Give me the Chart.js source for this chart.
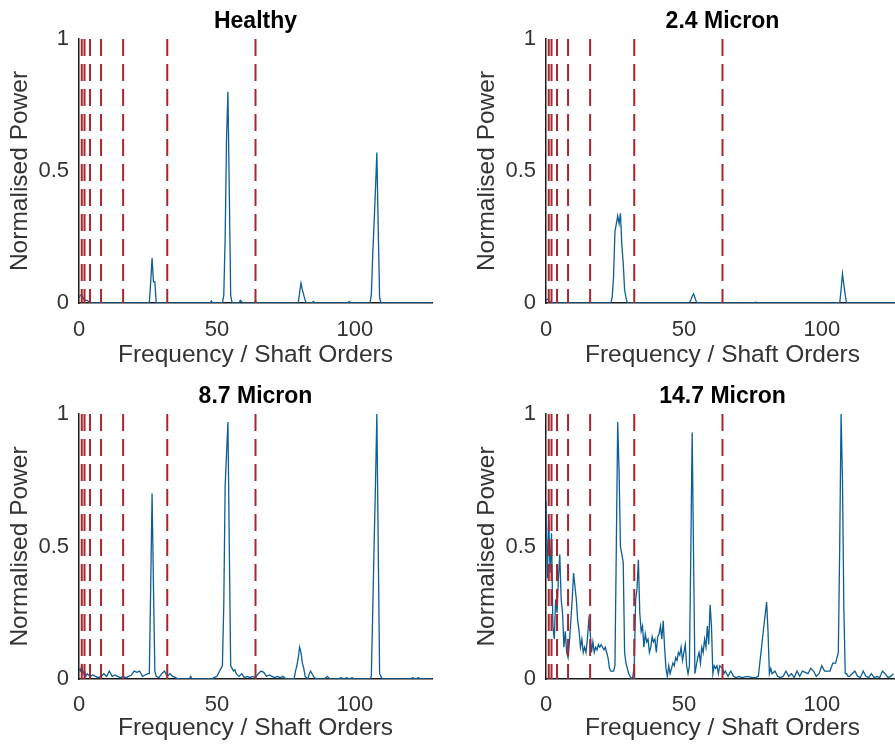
<!DOCTYPE html>
<html lang="en">
<head>
<meta charset="UTF-8" />
<script src="https://cdn.jsdelivr.net/npm/chart.js@4.4.1/dist/chart.umd.min.js"></script>
<title>Normalised power spectra</title>
<style>
  html, body { margin: 0; padding: 0; background: #fff; overflow: hidden; width: 895px; height: 755px; }
  .panel { position: absolute; }
</style>
</head>
<body>
<div class="panel" style="left:0;top:0"><canvas id="c0" width="450" height="375"></canvas></div>
<div class="panel" style="left:450px;top:0"><canvas id="c1" width="460" height="375"></canvas></div>
<div class="panel" style="left:0;top:375px"><canvas id="c2" width="450" height="380"></canvas></div>
<div class="panel" style="left:450px;top:375px"><canvas id="c3" width="460" height="380"></canvas></div>
<script>
// tick labels and marker lines (shaft orders)
const shaftOrderTicks = [0, 50, 100];
const powerTicks = [0, 0.5, 1];
const markerOrders = [1, 2, 4, 8, 16, 32, 64];
const panelTitles = ["Healthy", "2.4 Micron", "8.7 Micron", "14.7 Micron"];

// Healthy
const healthyFreq = [0,0.5,1,1.5,2,3,4, 25.5,26,26.5,27,27.5,28, 47.5,48,48.5,
  52,52.5,53,53.5,54,54.5,55,55.5, 58,58.5,59.5, 63.5,64,64.5,
  79.5,80,80.5,81,81.5,82,82.5, 84.5,85,85.5, 97.5,98,98.5,
  105.5,106,106.5,107,107.5,108,108.5,109,109.5, 128];
const healthyPower = [0.02,0.03,0.03,0.02,0.01,0.01,0, 0,0.08,0.17,0.08,0.08,0, 0,0.008,0,
  0,0.03,0.25,0.62,0.8,0.42,0.03,0, 0,0.01,0, 0,0.008,0,
  0,0.04,0.075,0.05,0.03,0.01,0, 0,0.006,0, 0,0.006,0,
  0,0.03,0.18,0.3,0.43,0.57,0.28,0.02,0, 0];

// 2.4 Micron
const micron24Freq = [0,0.5,1,1.5,2, 23.5,24,24.5,25,25.5,26,26.5,27,27.5,28,28.5,29,29.5,
  52,52.5,53,53.5,54,54.5,55, 75.5,76,76.5, 106.5,107,107.5,108,108.5,109, 128];
const micron24Power = [0.01,0.015,0.01,0.005,0, 0,0.02,0.1,0.27,0.3,0.33,0.3,0.34,0.22,0.15,0.05,0.02,0,
  0,0.01,0.025,0.035,0.02,0.005,0, 0,0.004,0, 0,0.05,0.11,0.07,0.03,0, 0];

// 8.7 Micron
const micron87Freq = [0,0.5,1,1.5,2,2.5,3,4,5,6,7,8,9,10,11,12,13,14,15,16,17,18,19,20,21,22,23,24,25,
  25.5,26,26.5,27,27.5,28,29,30,31,32,33,34,35,36, 40,40.5,41, 48,49,50,51,51.5,52,
  52.5,53,53.5,54,54.5,55,55.5,56,56.5,57,58,59,60,61,62,63,64,65,66,67,68,69,70,71,72,73,74,75,
  78,78.5,79,79.5,80,80.5,81,81.5,82,83,83.5,84,84.5,85,86, 89,90,91, 94,95,96,97,98,99,100,
  105.5,106,106.5,107,107.5,108,108.5,109,109.5,110, 120,121,122,123,124,128];
const micron87Power = [0.04,0.03,0.05,0.02,0.03,0.01,0.02,0.01,0.015,0.01,0.005,0.01,0.02,0.01,0.03,0.01,0.015,0.01,0.005,0.01,0.005,0.01,0.015,0.03,0.025,0.03,0.01,0.015,0.02,
  0.02,0.35,0.7,0.35,0.03,0.01,0.005,0.02,0.03,0.01,0.02,0.01,0.005,0, 0,0.01,0, 0,0.005,0.01,0.03,0.04,0.05,
  0.28,0.73,0.85,0.97,0.5,0.05,0.04,0.03,0.035,0.02,0.01,0.02,0.005,0.01,0.005,0.01,0.005,0.02,0.03,0.025,0.01,0.015,0.01,0.005,0.01,0.005,0.01,0,
  0,0.03,0.05,0.08,0.12,0.1,0.06,0.04,0.01,0,0.02,0.03,0.02,0.01,0, 0,0.01,0, 0,0.005,0,0.005,0,0.005,0,
  0,0.01,0.25,0.5,0.73,1.0,0.5,0.02,0.01,0, 0,0.005,0,0.005,0,0];

// 14.7 Micron
const micron147Freq = [0,0.5,1,1.5,2,2.5,3,3.5,4,4.5,5,5.5,6,6.5,7,7.5,8,8.5,9,9.5,10,10.5,11,11.5,12,12.5,13,13.5,14,14.5,
  15,15.5,16,16.5,17,17.5,18,18.5,19,19.5,20,21,21.5,22,22.5,23,23.5,24,24.5,25,25.5,26,26.5,27,27.5,28,28.5,29,29.5,30,30.5,31,31.5,
  32,32.5,33,33.5,34,34.5,35,35.5,36,36.5,37,37.5,38,38.5,39,39.5,40,40.5,41,41.5,42,42.5,43,43.5,44,44.5,45,45.5,46,46.5,47,47.5,
  48,48.5,49,49.5,50,50.5,51,51.5,52,52.5,53,53.5,54,54.5,55,55.5,56,56.5,57,57.5,58,58.5,59,59.5,60,60.5,61,61.5,62,62.5,63,64,64.5,
  65,66,67,68,69,70,71,73,75,76,77,79,80,80.5,81,81.5,82,83,84,85,86,87,88,89,90,91,92,93,95,96,97,98,99,100,101,102,103,104,105,106,
  106.5,107,107.5,108,108.5,109,109.5,110,111,112,113,114,115,116,117,118,119,120,121,122,123,124,125,126,127,128];
const micron147Power = [0.67,0.38,0.6,0.4,0.55,0.2,0.15,0.3,0.25,0.38,0.47,0.3,0.25,0.12,0.18,0.1,0.08,0.14,0.22,0.3,0.4,0.35,0.3,0.22,0.18,0.12,0.15,0.1,0.12,0.1,
  0.15,0.22,0.18,0.1,0.14,0.1,0.12,0.11,0.13,0.12,0.13,0.11,0.12,0.1,0.08,0.04,0.03,0.03,0.03,0.05,0.5,0.97,0.78,0.5,0.47,0.44,0.1,0.06,0.04,0.02,0.01,0,0.01,
  0.05,0.3,0.34,0.45,0.25,0.18,0.2,0.12,0.17,0.14,0.15,0.1,0.12,0.16,0.14,0.15,0.1,0.16,0.17,0.2,0.15,0.22,0.12,0.04,0.01,0.05,0.02,0.04,0.06,0.05,0.08,0.07,
  0.1,0.09,0.12,0.07,0.1,0.13,0.05,0.02,0.05,0.47,0.93,0.47,0.02,0.05,0.08,0.1,0.06,0.12,0.1,0.15,0.12,0.2,0.13,0.28,0.2,0.02,0.05,0.04,0.05,0.02,0.05,
  0.04,0.02,0.03,0.01,0.03,0.01,0.005,0.01,0.005,0.01,0.005,0.005,0.01,0.2,0.29,0.18,0.02,0.04,0.02,0.03,0.01,0.005,0.01,0.03,0.01,0.02,0.005,0.03,0.01,0.03,0.02,0.04,0.03,0.01,0.02,0.05,0.03,0.03,0.03,0.06,
  0.06,0.1,0.5,1.0,0.75,0.27,0.02,0.02,0.01,0.01,0.02,0.03,0.01,0.005,0.03,0.01,0.005,0.02,0.005,0.01,0.005,0.03,0.02,0.005,0.01,0.02];

const panels = [
  { id: "c0", freq: healthyFreq, power: healthyPower, axisLeft: 79, right: 432, bottom: 303, tickPad: 14, xTitlePad: 5 },
  { id: "c1", freq: micron24Freq, power: micron24Power, axisLeft: 96, right: 449, bottom: 303, tickPad: 14, xTitlePad: 5 },
  { id: "c2", freq: micron87Freq, power: micron87Power, axisLeft: 79, right: 432, bottom: 304, tickPad: 13, xTitlePad: 12 },
  { id: "c3", freq: micron147Freq, power: micron147Power, axisLeft: 96, right: 449, bottom: 304, tickPad: 13, xTitlePad: 12 }
];

Chart.defaults.font.family = '"Liberation Sans", Arial, Helvetica, sans-serif';
Chart.defaults.color = "#333";

panels.forEach((p, i) => {
  const canvas = document.getElementById(p.id);
  const spectrum = p.freq.map((f, k) => ({ x: f, y: p.power[k] }));
  const datasets = [{
    data: spectrum,
    showLine: true,
    borderColor: "#0d5e94",
    borderWidth: 1.3,
    pointRadius: 0,
    order: 1
  }];
  markerOrders.forEach((m) => {
    datasets.push({
      data: [{ x: m, y: 1 }, { x: m, y: 0 }],
      showLine: true,
      borderColor: "#a8262f",
      borderWidth: 2,
      borderDash: [17, 8],
      pointRadius: 0,
      order: 0
    });
  });

  new Chart(canvas.getContext("2d"), {
    type: "scatter",
    data: { datasets: datasets },
    options: {
      responsive: false,
      animation: false,
      events: [],
      layout: { padding: { left: p.axisLeft - 79, right: canvas.width - p.right, top: 0, bottom: 0 } },
      plugins: {
        legend: { display: false },
        tooltip: { enabled: false },
        title: {
          display: true,
          text: panelTitles[i],
          fullSize: false,
          color: "#000",
          font: { size: 23, weight: "bold" },
          padding: { top: 8, bottom: 3.4 }
        }
      },
      scales: {
        x: {
          type: "linear",
          min: 0,
          max: 128,
          afterBuildTicks: (s) => { s.ticks = shaftOrderTicks.map((v) => ({ value: v })); },
          afterFit: (s) => { s.height = canvas.height - p.bottom; },
          grid: { display: false, drawTicks: false },
          border: { display: true, color: "#1a1a1a", width: 1.5 },
          ticks: { padding: p.tickPad, font: { size: 22 }, color: "#333", maxRotation: 0,
            callback: (v) => String(v) },
          title: {
            display: true,
            text: "Frequency / Shaft Orders",
            color: "#333",
            font: { size: 24.5 },
            padding: { top: 0, bottom: p.xTitlePad }
          }
        },
        y: {
          type: "linear",
          min: 0,
          max: 1,
          afterBuildTicks: (s) => { s.ticks = powerTicks.map((v) => ({ value: v })); },
          afterFit: (s) => { s.width = 79; },
          grid: { display: false, drawTicks: false },
          border: { display: true, color: "#1a1a1a", width: 1.5 },
          ticks: { padding: 10, font: { size: 22 }, color: "#333", callback: (v) => String(v) },
          title: {
            display: true,
            text: "Normalised Power",
            color: "#333",
            font: { size: 24.5 },
            padding: { top: 6, bottom: 0 }
          }
        }
      }
    }
  });
});
</script>
</body>
</html>
